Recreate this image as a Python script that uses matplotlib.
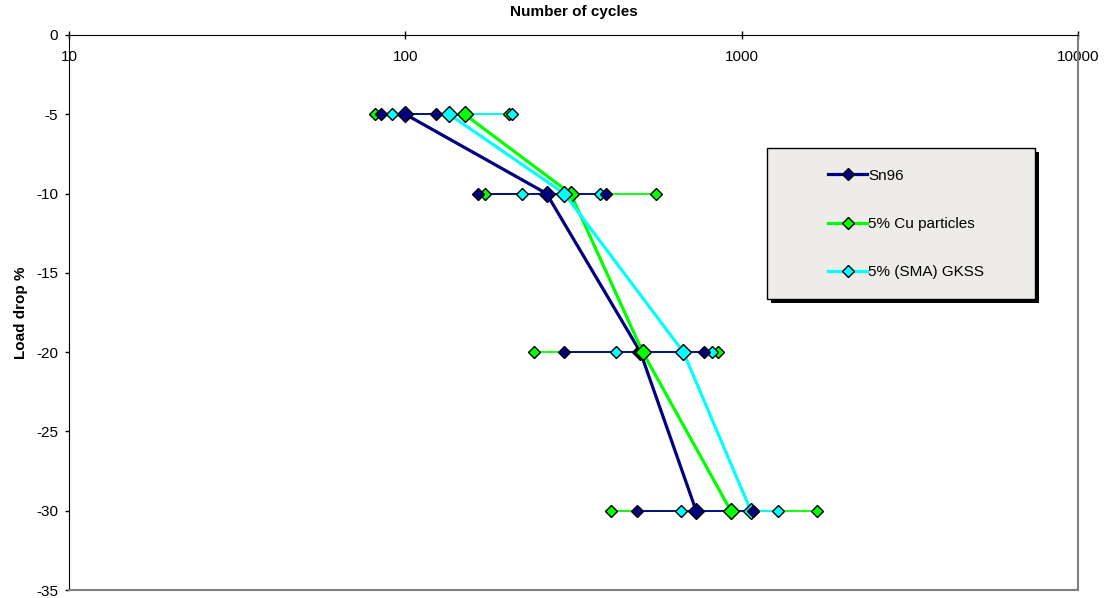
import numpy as np
import matplotlib
matplotlib.use("Agg")
import matplotlib.pyplot as plt
from matplotlib.patches import Rectangle
from matplotlib.ticker import FixedLocator, NullLocator

plt.rcParams['font.family'] = ['Liberation Sans', 'DejaVu Sans']
plt.rcParams['font.size'] = 11
plt.rcParams['axes.unicode_minus'] = False

# load drop levels (%)
levels = [-5, -10, -20, -30]

# mean number of cycles for each alloy
sn96_mean = [100, 263, 500, 732]
cu_mean = [150, 310, 508, 928]
sma_mean = [135, 297, 671, 1065]

# individual samples at each level (min / max)
sn96_pts = [[84.5, 123], [165, 395], [297, 775], [488, 1080]]
cu_pts = [[81, 204], [173, 557], [241, 852], [409, 1679]]
sma_pts = [[91, 207], [222, 380], [423, 815], [660, 1285]]

names = ['Sn96', '5% Cu particles', '5% (SMA) GKSS']
colors = ['#000080', '#00ff00', '#00ffff']
means = [sn96_mean, cu_mean, sma_mean]
points = [sn96_pts, cu_pts, sma_pts]

xticks = [10, 100, 1000, 10000]

fig = plt.figure(figsize=(11.05, 5.98), dpi=100)
ax = fig.add_axes([69/1105, 1-590/598, (1078-69)/1105, (590-35)/598])

# horizontal scatter lines (green under cyan under navy)
for i in [1, 2, 0]:
    for lev, pts in zip(levels, points[i]):
        ax.plot([min(pts), max(pts)], [lev, lev], color=colors[i], lw=1.3, zorder=2)

# mean curves
lines = []
for i in range(3):
    l, = ax.plot(means[i], levels, color=colors[i], lw=2.3, marker='D', ms=8.6,
                 mec='black', mew=1.0, zorder=3, label=names[i])
    lines.append(l)

# individual sample markers
for i in [1, 2, 0]:
    for lev, pts in zip(levels, points[i]):
        ax.plot(pts, [lev]*len(pts), ls='none', marker='D', ms=6, mfc=colors[i],
                mec='black', mew=1.0, zorder=4)

ax.set_xscale('log')
ax.set_xlim(10, 10000)
ax.set_ylim(-35, 0)
ax.xaxis.set_major_locator(FixedLocator(xticks))
ax.xaxis.set_minor_locator(NullLocator())
ax.set_xticklabels([str(t) for t in xticks])
ax.set_yticks(np.arange(-35, 1, 5))

ax.spines['top'].set_color('black')
ax.spines['left'].set_color('black')
ax.spines['right'].set_color('#808080')
ax.spines['bottom'].set_color('#808080')
ax.spines['right'].set_linewidth(1.5)
ax.spines['bottom'].set_linewidth(1.5)

ax.tick_params(axis='x', top=True, bottom=False, labeltop=True, labelbottom=False,
               direction='inout', length=6, width=1, pad=-14)
ax.tick_params(axis='y', direction='out', length=3, width=1, pad=5)
for lbl in ax.get_xticklabels(which='major'):
    lbl.set_verticalalignment('top')

fig.text((69+1078)/2/1105, 1-12/598, 'Number of cycles', ha='center', va='center',
         fontweight='bold', fontsize=11)
ax.set_ylabel('Load drop %', fontweight='bold', fontsize=11, labelpad=6)

# legend box with shadow
bx0, by0, bx1, by1 = 767, 148, 1035, 299
fig.patches.append(Rectangle(((bx0+4)/1105, 1-(by1+4)/598), (bx1-bx0)/1105, (by1-by0)/598,
                             transform=fig.transFigure, facecolor='black', edgecolor='none', zorder=5))
fig.patches.append(Rectangle((bx0/1105, 1-by1/598), (bx1-bx0)/1105, (by1-by0)/598,
                             transform=fig.transFigure, facecolor='#eeece8', edgecolor='black',
                             lw=1, zorder=6))
leg = fig.legend(handles=lines, labels=names, loc='upper left',
                 bbox_to_anchor=(820/1105, 1-161/598), frameon=False, borderpad=0,
                 handlelength=2.6, handletextpad=0.05, labelspacing=2.25, fontsize=11)
leg.set_zorder(7)
for h in leg.get_lines():
    h.set_markersize(6)

fig.savefig('out.png', dpi=100)
